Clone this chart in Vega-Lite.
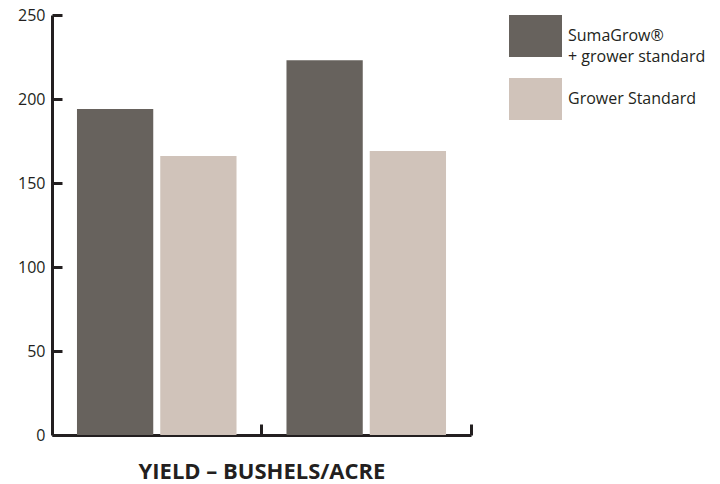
{
  "$schema": "https://vega.github.io/schema/vega-lite/v6.json",
  "width": 419,
  "height": 420,
  "autosize": {"type": "none"},
  "padding": {"left": 52, "top": 15, "right": 249, "bottom": 49},
  "background": "white",
  "config": {"view": {"stroke": null}, "font": "Open Sans"},
  "data": {
    "values": [
      {"group": "1", "series": "SumaGrow®", "value": 194},
      {"group": "1", "series": "Grower Standard", "value": 166},
      {"group": "2", "series": "SumaGrow®", "value": 223},
      {"group": "2", "series": "Grower Standard", "value": 169}
    ]
  },
  "mark": {"type": "bar"},
  "encoding": {
    "x": {
      "field": "group",
      "type": "nominal",
      "sort": ["1", "2"],
      "scale": {"paddingInner": 0, "paddingOuter": 0},
      "axis": {
        "labels": false,
        "title": "YIELD – BUSHELS/ACRE",
        "bandPosition": 1,
        "tickSize": -11,
        "tickWidth": 3,
        "tickColor": "#231f20",
        "domainColor": "#231f20",
        "domainWidth": 3,
        "titleFont": "Open Sans",
        "titleFontWeight": "bold",
        "titleFontSize": 22,
        "titleColor": "#231f20",
        "titlePadding": 25
      }
    },
    "xOffset": {
      "field": "series",
      "type": "nominal",
      "sort": ["SumaGrow®", "Grower Standard"],
      "scale": {"paddingInner": 0.084, "paddingOuter": 0.3}
    },
    "y": {
      "field": "value",
      "type": "quantitative",
      "scale": {"domain": [0, 250], "nice": false},
      "axis": {
        "values": [0, 50, 100, 150, 200, 250],
        "grid": false,
        "title": null,
        "tickSize": -10,
        "tickWidth": 3,
        "tickColor": "#231f20",
        "domainColor": "#231f20",
        "domainWidth": 3,
        "labelPadding": 17,
        "labelFontSize": 16,
        "labelColor": "#231f20",
        "labelFont": "Open Sans"
      }
    },
    "color": {
      "field": "series",
      "type": "nominal",
      "sort": ["SumaGrow®", "Grower Standard"],
      "scale": {"domain": ["SumaGrow®", "Grower Standard"], "range": ["#67625d", "#d0c3ba"]},
      "legend": {
        "title": null,
        "orient": "none",
        "legendX": 457,
        "legendY": -5.5,
        "padding": 0,
        "symbolType": "M-1,-0.79H1V0.79H-1Z",
        "symbolSize": 2809,
        "symbolStrokeWidth": 0,
        "symbolOpacity": 1,
        "labelOffset": 6,
        "rowPadding": 7,
        "labelFont": "Open Sans",
        "labelFontSize": 16,
        "labelColor": "#231f20",
        "labelLimit": 200,
        "labelExpr": "datum.label == 'SumaGrow®' ? ['SumaGrow®', '+ grower standard'] : datum.label",
        "encode": {"labels": {"update": {"lineHeight": {"value": 21}}}}
      }
    }
  }
}
